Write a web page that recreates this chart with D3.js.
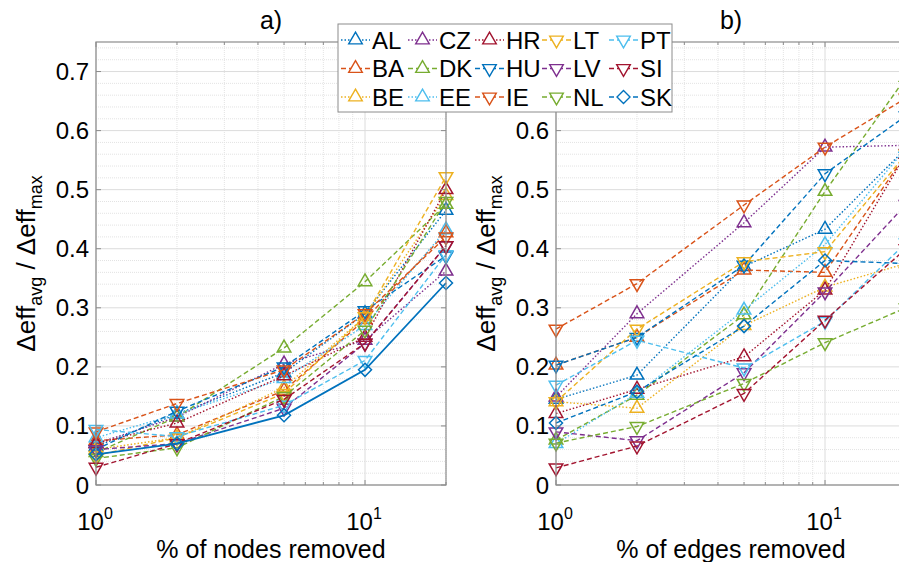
<!DOCTYPE html>
<html>
<head>
<meta charset="utf-8">
<script src="https://cdn.jsdelivr.net/npm/d3@7"></script>
<style>
  body { margin: 0; background: #fff; }
  text { font-family: "Liberation Sans", Arial, sans-serif; fill: #000; }
</style>
</head>
<body>
<div id="chart"></div>
<script>
// data
var countries = ["AL", "BA", "BE", "CZ", "DK", "EE", "HR", "HU", "IE", "LT", "LV", "NL", "PT", "SI", "SK"];
var percentRemoved = [1, 2, 5, 10, 20];
var yTicks = [0, 0.1, 0.2, 0.3, 0.4, 0.5, 0.6, 0.7];
var xTicks = [1, 10];

// a) nodes removed
var nodesRemoved = [
  [0.065, 0.120, 0.190, 0.290, 0.465],
  [0.075, 0.085, 0.160, 0.280, 0.427],
  [0.060, 0.080, 0.165, 0.285, 0.490],
  [0.070, 0.115, 0.205, 0.245, 0.362],
  [0.055, 0.115, 0.232, 0.344, 0.475],
  [0.080, 0.120, 0.180, 0.270, 0.432],
  [0.070, 0.105, 0.185, 0.250, 0.500],
  [0.060, 0.125, 0.200, 0.295, 0.388],
  [0.090, 0.138, 0.195, 0.290, 0.420],
  [0.050, 0.080, 0.155, 0.285, 0.522],
  [0.060, 0.070, 0.130, 0.240, 0.405],
  [0.045, 0.063, 0.150, 0.262, 0.480],
  [0.094, 0.082, 0.135, 0.211, 0.390],
  [0.030, 0.070, 0.145, 0.240, 0.405],
  [0.052, 0.070, 0.118, 0.195, 0.342]
];

// b) edges removed
var edgesRemoved = [
  [0.145, 0.186, 0.370, 0.433, 0.570],
  [0.203, 0.250, 0.364, 0.360, 0.560],
  [0.141, 0.130, 0.270, 0.335, 0.375],
  [0.149, 0.290, 0.444, 0.572, 0.575],
  [0.076, 0.152, 0.288, 0.497, 0.690],
  [0.070, 0.155, 0.296, 0.407, 0.570],
  [0.121, 0.162, 0.217, 0.330, 0.560],
  [0.203, 0.250, 0.372, 0.527, 0.625],
  [0.264, 0.341, 0.474, 0.572, 0.655],
  [0.141, 0.264, 0.378, 0.395, 0.560],
  [0.090, 0.075, 0.190, 0.327, 0.475],
  [0.071, 0.099, 0.172, 0.241, 0.300],
  [0.169, 0.245, 0.198, 0.277, 0.410],
  [0.029, 0.066, 0.155, 0.279, 0.400],
  [0.105, 0.158, 0.269, 0.380, 0.375]
];

// matlab colour order, markers and line styles per country
var colors = ["#0072BD", "#D95319", "#EDB120", "#7E2F8E", "#77AC30", "#4DBEEE", "#A2142F",
              "#0072BD", "#D95319", "#EDB120", "#7E2F8E", "#77AC30", "#4DBEEE", "#A2142F", "#0072BD"];
var markers = ["up", "up", "up", "up", "up", "up", "up",
               "down", "down", "down", "down", "down", "down", "down", "diamond"];
var dotted = "1.5,2", dashed = "5,3";
var dashes = [dotted, dashed, dotted, dotted, dashed, dotted, dotted,
              dashed, dashed, dashed, dashed, dashed, dashed, dashed, dashed];

var width = 899, height = 562;
var plotTop = 42, plotH = 443, plotW = 350;
var legendBox = {x: 338, y: 24, w: 334, h: 88};

var svg = d3.select("#chart")
  .append("svg")
    .attr("width", width)
    .attr("height", height);

var y = d3.scaleLinear().domain([0, 0.75]).range([plotTop + plotH, plotTop]);

function markerPath(type) {
  if (type === "diamond") {
    return "M0,-6.5L6.5,0L0,6.5L-6.5,0Z";
  }
  return d3.symbol().type(d3.symbolTriangle).size(80)();
}

function drawPanel(left, data, title, xlabel, solidLast) {
  var x = d3.scaleLog().domain([1, 20]).range([left, left + plotW]);
  var g = svg.append("g");

  // minor grid
  var minorY = d3.range(1, 38).map(function(i) { return i * 0.02; })
    .filter(function(v) { return Math.abs(v * 10 - Math.round(v * 10)) > 0.01; });
  g.selectAll(".minory").data(minorY).enter().append("line")
    .attr("x1", left).attr("x2", left + plotW)
    .attr("y1", function(d) { return y(d); }).attr("y2", function(d) { return y(d); })
    .attr("stroke", "#e3e3e3").attr("stroke-dasharray", "1,1");
  var minorX = [2, 3, 4, 5, 6, 7, 8, 9, 20];
  g.selectAll(".minorx").data(minorX).enter().append("line")
    .attr("x1", function(d) { return x(d); }).attr("x2", function(d) { return x(d); })
    .attr("y1", plotTop).attr("y2", plotTop + plotH)
    .attr("stroke", "#e3e3e3").attr("stroke-dasharray", "1,1");

  // major grid
  g.selectAll(".majory").data(yTicks).enter().append("line")
    .attr("x1", left).attr("x2", left + plotW)
    .attr("y1", function(d) { return y(d); }).attr("y2", function(d) { return y(d); })
    .attr("stroke", "#dcdcdc");
  g.selectAll(".majorx").data(xTicks).enter().append("line")
    .attr("x1", function(d) { return x(d); }).attr("x2", function(d) { return x(d); })
    .attr("y1", plotTop).attr("y2", plotTop + plotH)
    .attr("stroke", "#dcdcdc");

  // lines + markers
  var line = d3.line()
    .x(function(d, i) { return x(percentRemoved[i]); })
    .y(function(d) { return y(d); });

  data.forEach(function(series, k) {
    var dash = dashes[k];
    var solid = solidLast && k === data.length - 1;
    if (solid) dash = null;
    g.append("path")
      .datum(series)
      .attr("d", line)
      .attr("fill", "none")
      .attr("stroke", colors[k])
      .attr("stroke-width", solid ? 1.8 : 1.4)
      .attr("stroke-dasharray", dash);
    g.selectAll(".m" + k).data(series).enter().append("path")
      .attr("d", markerPath(markers[k]))
      .attr("transform", function(d, i) {
        var rot = markers[k] === "down" ? " rotate(180)" : "";
        return "translate(" + x(percentRemoved[i]) + "," + y(d) + ")" + rot;
      })
      .attr("fill", "none")
      .attr("stroke", colors[k])
      .attr("stroke-width", 1.5);
  });

  // box
  g.append("rect")
    .attr("x", left).attr("y", plotTop)
    .attr("width", plotW).attr("height", plotH)
    .attr("fill", "none").attr("stroke", "#8c8c8c").attr("stroke-width", 1.2);

  // ticks
  g.selectAll(".yt").data(yTicks).enter().append("line")
    .attr("x1", left).attr("x2", left + 5)
    .attr("y1", function(d) { return y(d); }).attr("y2", function(d) { return y(d); })
    .attr("stroke", "#8c8c8c");
  g.selectAll(".yt2").data(yTicks).enter().append("line")
    .attr("x1", left + plotW).attr("x2", left + plotW - 5)
    .attr("y1", function(d) { return y(d); }).attr("y2", function(d) { return y(d); })
    .attr("stroke", "#8c8c8c");
  var allX = xTicks.concat(minorX);
  [plotTop + plotH, plotTop].forEach(function(edge, j) {
    g.selectAll(".xt" + j).data(allX).enter().append("line")
      .attr("x1", function(d) { return x(d); }).attr("x2", function(d) { return x(d); })
      .attr("y1", edge)
      .attr("y2", function(d) {
        var len = xTicks.indexOf(d) >= 0 ? 5 : 3;
        return j === 0 ? edge - len : edge + len;
      })
      .attr("stroke", "#8c8c8c");
  });

  // tick labels (skip any that would sit under the legend box)
  var visibleY = yTicks.filter(function(d) {
    var ty = y(d);
    return !(left - 40 > legendBox.x && left - 8 < legendBox.x + legendBox.w &&
             ty > legendBox.y - 5 && ty < legendBox.y + legendBox.h + 5);
  });
  g.selectAll(".yl").data(visibleY).enter().append("text")
    .attr("x", left - 7)
    .attr("y", function(d) { return y(d) + 8.5; })
    .attr("text-anchor", "end")
    .attr("font-size", "24px")
    .text(function(d) { return d === 0 ? "0" : d.toFixed(1); });

  xTicks.forEach(function(t, i) {
    var lbl = g.append("text")
      .attr("x", x(t) - 1)
      .attr("y", 530)
      .attr("text-anchor", "middle")
      .attr("font-size", "24px");
    lbl.append("tspan").text("10");
    lbl.append("tspan").attr("dy", -11).attr("font-size", "16px").text(String(i));
  });

  // titles
  g.append("text")
    .attr("x", left + plotW / 2)
    .attr("y", 29)
    .attr("text-anchor", "middle")
    .attr("font-size", "25px")
    .text(title);

  g.append("text")
    .attr("x", left + plotW / 2)
    .attr("y", 558)
    .attr("text-anchor", "middle")
    .attr("font-size", "25px")
    .text(xlabel);

  var yl = g.append("text")
    .attr("transform", "translate(" + (left - 61) + "," + (plotTop + plotH / 2) + ") rotate(-90)")
    .attr("text-anchor", "middle")
    .attr("font-size", "26px");
  yl.append("tspan").text("\u0394eff");
  yl.append("tspan").attr("dy", 7).attr("font-size", "18px").text("avg");
  yl.append("tspan").attr("dy", -7).text(" / \u0394eff");
  yl.append("tspan").attr("dy", 7).attr("font-size", "18px").text("max");
}

drawPanel(96, nodesRemoved, "a)", "% of nodes removed", true);
drawPanel(556, edgesRemoved, "b)", "% of edges removed", false);

// legend
var legend = svg.append("g");
legend.append("rect")
  .attr("x", legendBox.x).attr("y", legendBox.y)
  .attr("width", legendBox.w).attr("height", legendBox.h)
  .attr("fill", "#fff").attr("stroke", "#8c8c8c");

countries.forEach(function(c, k) {
  var col = Math.floor(k / 3), row = k % 3;
  var x0 = 341 + col * 67, cy = 40 + row * 28.5;
  legend.append("line")
    .attr("x1", x0).attr("x2", x0 + 29)
    .attr("y1", cy).attr("y2", cy)
    .attr("stroke", colors[k]).attr("stroke-width", 1.3)
    .attr("stroke-dasharray", dashes[k]);
  legend.append("path")
    .attr("d", markerPath(markers[k]))
    .attr("transform", "translate(" + (x0 + 14.5) + "," + cy + ")" + (markers[k] === "down" ? " rotate(180)" : ""))
    .attr("fill", "#fff")
    .attr("stroke", colors[k]).attr("stroke-width", 1.4);
  legend.append("text")
    .attr("x", x0 + 31)
    .attr("y", cy + 8.5)
    .attr("font-size", "24px")
    .text(c);
});
</script>
</body>
</html>
